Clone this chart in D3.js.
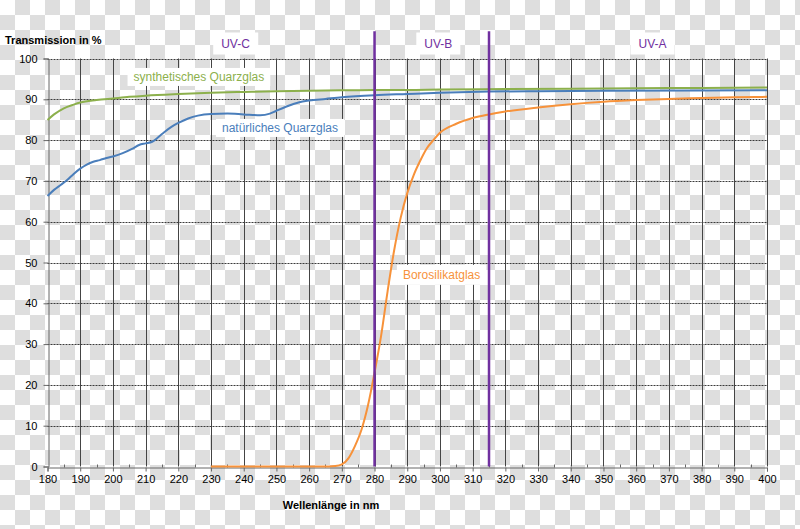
<!DOCTYPE html>
<html>
<head>
<meta charset="utf-8">
<script src="https://cdn.jsdelivr.net/npm/d3@7"></script>
<style>
  body { margin: 0; }
  svg { display: block; font-family: "Liberation Sans", Arial, sans-serif; }
</style>
</head>
<body>
<svg id="chart"></svg>
<script>
// Tick values
const wavelengthTicks = d3.range(180, 401, 10);
const minorTicks = d3.range(185, 400, 10);
const transmissionTicks = d3.range(0, 101, 10);

// UV band borders (nm)
const bandBorders = [280, 315];
const bandNames = ['UV-C', 'UV-B', 'UV-A'];
const bandLabelAt = [237.5, 299.5, 365];

// synthetisches Quarzglas
const synthWl = [180, 182, 185, 188, 190, 195, 200, 205, 210, 220, 230, 240, 250, 260, 270, 280, 290, 300, 320, 340, 360, 380, 400];
const synthT = [84.9, 86.3, 87.8, 88.7, 89.2, 89.8, 90.2, 90.6, 90.9, 91.3, 91.6, 91.8, 92.0, 92.1, 92.2, 92.3, 92.3, 92.4, 92.5, 92.6, 92.7, 92.8, 92.9];

// natürliches Quarzglas
const naturWl = [180, 182, 184, 186, 188, 190, 192, 194, 196, 198, 200, 203, 206, 208, 210, 212, 215, 218, 220, 223, 226, 230, 235, 240, 245, 248, 250, 255, 257, 260, 265, 270, 280, 290, 300, 315, 330, 350, 400];
const naturT = [66.3, 67.8, 69.0, 70.2, 71.7, 73.0, 74.0, 74.7, 75.1, 75.6, 76.0, 76.8, 77.9, 78.8, 79.2, 79.6, 81.5, 83.3, 84.2, 85.3, 86.0, 86.4, 86.5, 86.3, 86.1, 86.5, 87.2, 88.8, 89.3, 89.7, 90.1, 90.5, 91.0, 91.3, 91.6, 91.9, 92.0, 92.1, 92.2];

// Borosilikatglas
const boroWl = [230, 240, 250, 260, 266, 268, 270, 272, 274, 276, 278, 280, 282, 284, 286, 288, 290, 292, 294, 296, 298, 300, 305, 310, 315, 320, 330, 340, 350, 360, 370, 380, 390, 400];
const boroT = [0, 0, 0, 0, 0, 0.1, 0.5, 2, 5, 9, 15, 23, 32, 43, 53, 61, 67, 71.5, 75, 78, 80, 81.8, 84, 85.4, 86.3, 87, 88, 88.8, 89.4, 89.8, 90.1, 90.3, 90.5, 90.6];

const width = 800;
const height = 529;

const svg = d3.select('#chart')
  .attr('width', width)
  .attr('height', height);

// transparent-png checkerboard backdrop
const pattern = svg.append('defs').append('pattern')
  .attr('id', 'checker')
  .attr('width', 30)
  .attr('height', 30)
  .attr('patternUnits', 'userSpaceOnUse');
pattern.append('rect').attr('width', 30).attr('height', 30).attr('fill', '#fff');
pattern.append('rect').attr('x', 15).attr('width', 15).attr('height', 15).attr('fill', '#dedede');
pattern.append('rect').attr('y', 15).attr('width', 15).attr('height', 15).attr('fill', '#dedede');
svg.append('rect').attr('width', width).attr('height', height).attr('fill', 'url(#checker)');

const x = d3.scaleLinear().domain([180, 400]).range([47.5, 767]);
const y = d3.scaleLinear().domain([0, 100]).range([466.5, 58.5]);

// horizontal grid (dotted)
svg.append('g')
  .selectAll('line')
  .data(transmissionTicks.filter(d => d > 0))
  .join('line')
  .attr('x1', x(180))
  .attr('x2', x(400))
  .attr('y1', d => Math.round(y(d)) + 0.5)
  .attr('y2', d => Math.round(y(d)) + 0.5)
  .attr('stroke', '#3a3a3a')
  .attr('stroke-dasharray', '2,1');

// vertical grid (solid)
svg.append('g')
  .selectAll('line')
  .data(wavelengthTicks.filter(d => d > 180))
  .join('line')
  .attr('x1', d => Math.round(x(d)) + 0.5)
  .attr('x2', d => Math.round(x(d)) + 0.5)
  .attr('y1', y(100))
  .attr('y2', y(0))
  .attr('stroke', '#444');

// axes
const xAxis = d3.axisBottom(x)
  .tickValues(wavelengthTicks)
  .tickSize(4)
  .tickPadding(4)
  .tickFormat(d3.format('d'));
const gx = svg.append('g')
  .attr('transform', `translate(0,${Math.round(y(0)) + 0.5})`)
  .call(xAxis);

gx.append('g')
  .selectAll('line')
  .data(minorTicks)
  .join('line')
  .attr('x1', d => Math.round(x(d)) + 0.5)
  .attr('x2', d => Math.round(x(d)) + 0.5)
  .attr('y1', -3)
  .attr('y2', 0)
  .attr('stroke', '#666');

const yAxis = d3.axisLeft(y)
  .tickValues(transmissionTicks)
  .tickSize(5)
  .tickPadding(6);
const gy = svg.append('g')
  .attr('transform', `translate(${Math.round(x(180)) + 0.5},0)`)
  .call(yAxis);

[gx, gy].forEach(g => {
  g.select('.domain').attr('stroke', '#666');
  g.selectAll('.tick line').attr('stroke', '#666');
  g.selectAll('.tick text')
    .attr('fill', '#000')
    .style('font-size', '11px')
    .style('font-family', '"Liberation Sans", Arial, sans-serif');
});

// curves
const line = d3.line()
  .curve(d3.curveMonotoneX)
  .x(d => x(d[0]))
  .y(d => y(d[1]));

const series = [
  { wl: synthWl, t: synthT, color: '#8cb04c' },
  { wl: naturWl, t: naturT, color: '#4a7ebb' },
  { wl: boroWl, t: boroT, color: '#f7923a' },
];

series.forEach(s => {
  svg.append('path')
    .datum(d3.zip(s.wl, s.t))
    .attr('fill', 'none')
    .attr('stroke', s.color)
    .attr('stroke-width', 2)
    .attr('d', line);
});

// UV band borders
svg.append('g')
  .selectAll('line')
  .data(bandBorders)
  .join('line')
  .attr('x1', d => x(d))
  .attr('x2', d => x(d))
  .attr('y1', y(106.7))
  .attr('y2', y(0))
  .attr('stroke', '#7030a0')
  .attr('stroke-width', 2.5);

// labels with white boxes
function boxedLabel(text, cx, baseline, color, size, padX, padY) {
  const g = svg.append('g');
  const rect = g.append('rect').attr('fill', '#fff');
  const t = g.append('text')
    .attr('x', cx)
    .attr('y', baseline)
    .attr('text-anchor', 'middle')
    .attr('fill', color)
    .style('font-size', size + 'px')
    .text(text);
  const bb = t.node().getBBox();
  rect.attr('x', bb.x - padX)
    .attr('y', bb.y - padY)
    .attr('width', bb.width + 2 * padX)
    .attr('height', bb.height + 2 * padY);
}

bandNames.forEach((name, i) => {
  boxedLabel(name, x(bandLabelAt[i]), 47.5, '#7030a0', 12, 8, 4);
});

boxedLabel('synthetisches Quarzglas', x(226.3), y(94.5), '#8cb04c', 12, 6, 2);
boxedLabel('natürliches Quarzglas', x(251.1), y(82), '#4a7ebb', 12, 6, 2);
boxedLabel('Borosilikatglas', x(300.5), y(46), '#f7923a', 12, 6, 3);

// axis titles
svg.append('text')
  .attr('x', 5)
  .attr('y', 43.5)
  .style('font-size', '11px')
  .style('font-weight', 'bold')
  .attr('fill', '#000')
  .text('Transmission in %');

svg.append('text')
  .attr('x', 331)
  .attr('y', 509)
  .attr('text-anchor', 'middle')
  .style('font-size', '11px')
  .style('font-weight', 'bold')
  .attr('fill', '#000')
  .text('Wellenlänge in nm');
</script>
</body>
</html>
